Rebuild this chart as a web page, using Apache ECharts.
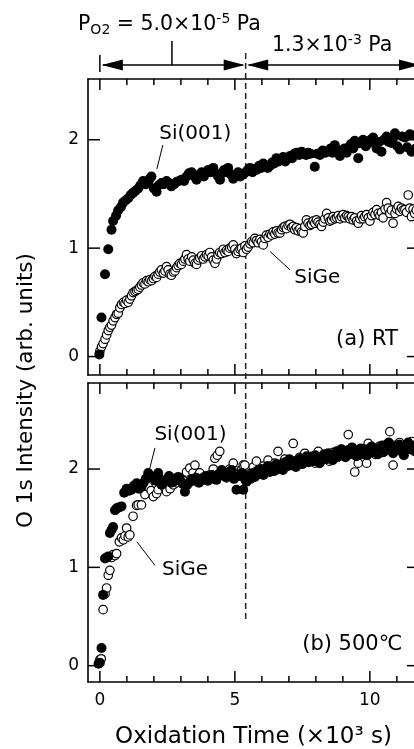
<!DOCTYPE html>
<html><head><meta charset="utf-8">
<script src="https://cdn.jsdelivr.net/npm/echarts@6/dist/echarts.min.js"></script>
<style>html,body{margin:0;padding:0;background:#fff}#c{width:414px;height:749px}</style>
</head><body><div id="c"></div>
<script>
// ---- data (x: oxidation time ×10^3 s, y: O 1s intensity arb. units) ----
const xTicksMinor = [0,1,2,3,4,5,6,7,8,9,10,11];
const xTicksMajor = [0,5,10];
const yTicks = [0,1,2];
const pressureSwitch = 5.4;

const siRT = [[-0.02,0.02],[0.06,0.36],[0.19,0.76],[0.31,0.99],[0.43,1.17],[0.49,1.25],[0.6,1.3],[0.68,1.35],[0.78,1.38],[0.86,1.42],[0.95,1.44],[1.05,1.46],[1.14,1.49],[1.23,1.51],[1.32,1.53],[1.42,1.55],[1.5,1.58],[1.6,1.62],[1.7,1.59],[1.79,1.6],[1.85,1.64],[1.91,1.66],[2.0,1.55],[2.1,1.52],[2.18,1.58],[2.28,1.6],[2.37,1.59],[2.47,1.62],[2.56,1.6],[2.65,1.57],[2.75,1.59],[2.84,1.61],[2.93,1.62],[3.02,1.63],[3.12,1.62],[3.21,1.66],[3.3,1.69],[3.4,1.7],[3.5,1.66],[3.58,1.63],[3.68,1.68],[3.77,1.7],[3.85,1.66],[3.93,1.69],[4.01,1.72],[4.1,1.7],[4.2,1.74],[4.3,1.69],[4.38,1.66],[4.45,1.63],[4.52,1.69],[4.6,1.72],[4.68,1.7],[4.75,1.74],[4.85,1.68],[4.94,1.64],[5.03,1.68],[5.12,1.7],[5.2,1.66],[5.31,1.68],[5.4,1.7],[5.48,1.72],[5.56,1.74],[5.65,1.7],[5.73,1.73],[5.8,1.72],[5.9,1.76],[5.97,1.74],[6.05,1.78],[6.13,1.76],[6.22,1.74],[6.3,1.76],[6.38,1.79],[6.46,1.78],[6.54,1.83],[6.62,1.8],[6.7,1.82],[6.79,1.84],[6.87,1.8],[6.96,1.83],[7.04,1.85],[7.12,1.83],[7.2,1.87],[7.28,1.88],[7.38,1.86],[7.47,1.89],[7.56,1.87],[7.64,1.86],[7.72,1.88],[7.8,1.87],[7.96,1.75],[8.05,1.87],[8.15,1.86],[8.25,1.9],[8.35,1.88],[8.46,1.9],[8.55,1.92],[8.62,1.88],[8.7,1.95],[8.8,1.9],[8.89,1.85],[8.98,1.88],[9.06,1.92],[9.14,1.88],[9.22,1.93],[9.3,1.96],[9.38,1.92],[9.44,1.99],[9.5,1.96],[9.57,1.83],[9.65,1.97],[9.75,2.0],[9.85,1.94],[9.94,1.97],[10.03,2.0],[10.12,2.02],[10.2,1.96],[10.25,1.92],[10.34,1.98],[10.43,1.89],[10.52,2.0],[10.62,2.03],[10.7,1.98],[10.8,1.97],[10.88,2.02],[10.93,2.06],[11.02,1.94],[11.11,1.91],[11.2,2.03],[11.3,2.02],[11.38,1.93],[11.48,2.05],[11.54,1.89],[11.62,2.04],[11.7,1.92]];

const sigeRT = [[0.0,0.05],[0.06,0.09],[0.12,0.12],[0.19,0.16],[0.25,0.2],[0.31,0.24],[0.37,0.27],[0.43,0.29],[0.49,0.33],[0.56,0.36],[0.62,0.39],[0.68,0.4],[0.74,0.45],[0.8,0.48],[0.87,0.5],[0.93,0.49],[0.99,0.52],[1.05,0.5],[1.11,0.53],[1.17,0.56],[1.23,0.59],[1.3,0.6],[1.36,0.61],[1.42,0.62],[1.48,0.64],[1.54,0.66],[1.6,0.68],[1.67,0.67],[1.73,0.7],[1.79,0.69],[1.85,0.71],[1.92,0.7],[1.98,0.72],[2.04,0.74],[2.1,0.73],[2.16,0.76],[2.22,0.78],[2.28,0.8],[2.35,0.77],[2.41,0.79],[2.47,0.83],[2.53,0.8],[2.59,0.76],[2.65,0.75],[2.72,0.78],[2.78,0.79],[2.84,0.82],[2.9,0.84],[2.96,0.86],[3.02,0.85],[3.09,0.88],[3.15,0.9],[3.21,0.94],[3.27,0.9],[3.33,0.88],[3.4,0.92],[3.46,0.89],[3.52,0.86],[3.58,0.85],[3.64,0.89],[3.7,0.91],[3.77,0.93],[3.83,0.9],[3.89,0.92],[3.95,0.94],[4.01,0.93],[4.07,0.96],[4.14,0.92],[4.2,0.89],[4.26,0.86],[4.32,0.9],[4.38,0.94],[4.44,0.96],[4.51,0.95],[4.57,0.99],[4.63,0.96],[4.69,0.98],[4.75,0.97],[4.81,1.0],[4.88,1.01],[4.94,1.03],[5.0,0.99],[5.06,0.95],[5.12,0.97],[5.19,0.99],[5.25,1.0],[5.31,0.96],[5.37,1.02],[5.43,0.99],[5.49,1.01],[5.56,1.04],[5.62,1.06],[5.68,1.05],[5.74,1.09],[5.8,1.07],[5.86,1.05],[5.93,1.08],[5.99,1.06],[6.05,1.03],[6.11,1.09],[6.17,1.12],[6.23,1.1],[6.3,1.13],[6.36,1.12],[6.42,1.15],[6.48,1.13],[6.54,1.16],[6.6,1.14],[6.67,1.14],[6.73,1.17],[6.79,1.19],[6.85,1.2],[6.91,1.18],[6.97,1.21],[7.04,1.22],[7.1,1.19],[7.16,1.2],[7.22,1.17],[7.28,1.19],[7.34,1.16],[7.41,1.18],[7.47,1.15],[7.53,1.14],[7.59,1.2],[7.65,1.26],[7.71,1.23],[7.78,1.21],[7.84,1.22],[7.9,1.25],[7.96,1.23],[8.02,1.26],[8.08,1.24],[8.15,1.22],[8.21,1.2],[8.27,1.24],[8.33,1.27],[8.4,1.32],[8.46,1.28],[8.52,1.25],[8.58,1.26],[8.64,1.29],[8.7,1.27],[8.77,1.28],[8.83,1.3],[8.89,1.27],[8.95,1.29],[9.01,1.31],[9.07,1.28],[9.14,1.3],[9.2,1.29],[9.26,1.27],[9.32,1.29],[9.38,1.26],[9.44,1.28],[9.51,1.25],[9.57,1.23],[9.63,1.27],[9.69,1.3],[9.75,1.27],[9.81,1.29],[9.88,1.31],[9.94,1.28],[10.0,1.25],[10.06,1.3],[10.12,1.33],[10.19,1.31],[10.25,1.355],[10.31,1.32],[10.37,1.3],[10.43,1.33],[10.49,1.28],[10.56,1.36],[10.62,1.42],[10.68,1.37],[10.74,1.32],[10.8,1.35],[10.86,1.23],[10.93,1.32],[10.99,1.36],[11.05,1.385],[11.11,1.34],[11.17,1.37],[11.23,1.35],[11.3,1.355],[11.36,1.33],[11.42,1.49],[11.48,1.37],[11.54,1.29],[11.6,1.36],[11.66,1.32],[11.72,1.35]];

const siHT = [[-0.05,0.02],[0.0,0.03],[0.06,0.18],[0.12,0.72],[0.19,1.09],[0.25,1.1],[0.31,1.11],[0.37,1.35],[0.43,1.38],[0.49,1.41],[0.56,1.58],[0.62,1.6],[0.7,1.61],[0.8,1.62],[0.9,1.76],[0.99,1.8],[1.08,1.78],[1.17,1.79],[1.26,1.83],[1.36,1.855],[1.45,1.8],[1.54,1.82],[1.62,1.86],[1.7,1.9],[1.79,1.96],[1.88,1.93],[1.98,1.91],[2.07,1.88],[2.16,1.96],[2.22,1.9],[2.28,1.84],[2.37,1.87],[2.47,1.89],[2.56,1.93],[2.64,1.86],[2.72,1.87],[2.81,1.9],[2.9,1.92],[2.98,1.88],[3.07,1.85],[3.15,1.77],[3.24,1.84],[3.33,1.87],[3.42,1.9],[3.5,1.88],[3.58,1.91],[3.67,1.86],[3.75,1.9],[3.83,1.89],[3.92,1.93],[4.0,1.88],[4.07,1.91],[4.15,1.94],[4.23,1.9],[4.32,1.89],[4.4,1.95],[4.51,1.99],[4.6,1.93],[4.69,1.92],[4.78,1.97],[4.88,1.99],[4.97,1.9],[5.06,1.79],[5.15,1.93],[5.25,1.96],[5.31,1.79],[5.37,1.9],[5.43,1.87],[5.5,1.93],[5.58,1.9],[5.66,1.96],[5.74,1.92],[5.82,1.98],[5.9,1.95],[5.98,2.0],[6.06,1.94],[6.14,1.99],[6.22,2.03],[6.3,1.97],[6.38,2.02],[6.46,1.98],[6.54,2.05],[6.62,2.0],[6.7,2.04],[6.78,1.99],[6.86,2.07],[6.94,2.03],[7.02,2.1],[7.1,2.04],[7.18,2.08],[7.26,2.02],[7.34,2.07],[7.42,2.11],[7.5,2.05],[7.58,2.09],[7.66,2.13],[7.74,2.07],[7.82,2.12],[7.9,2.08],[7.98,2.14],[8.06,2.1],[8.14,2.06],[8.22,2.12],[8.3,2.15],[8.38,2.1],[8.46,2.16],[8.54,2.12],[8.62,2.09],[8.7,2.15],[8.78,2.18],[8.86,2.13],[8.94,2.2],[9.02,2.16],[9.1,2.12],[9.18,2.19],[9.26,2.15],[9.34,2.22],[9.42,2.17],[9.5,2.13],[9.58,2.18],[9.66,2.21],[9.74,2.16],[9.82,2.2],[9.9,2.14],[9.98,2.19],[10.06,2.23],[10.14,2.17],[10.22,2.21],[10.3,2.15],[10.38,2.2],[10.46,2.24],[10.54,2.18],[10.62,2.22],[10.7,2.27],[10.78,2.2],[10.86,2.16],[10.94,2.24],[11.02,2.19],[11.1,2.25],[11.18,2.21],[11.26,2.14],[11.34,2.22],[11.42,2.27],[11.5,2.2],[11.58,2.24],[11.66,2.18],[11.74,2.23]];

const sigeHT = [[0.0,0.06],[0.05,0.07],[0.12,0.57],[0.19,0.73],[0.25,0.79],[0.31,0.92],[0.37,0.97],[0.43,1.1],[0.49,1.13],[0.56,1.12],[0.62,1.14],[0.72,1.26],[0.8,1.3],[0.87,1.28],[0.93,1.32],[0.99,1.4],[1.05,1.31],[1.11,1.33],[1.23,1.52],[1.36,1.63],[1.42,1.635],[1.54,1.635],[1.67,1.74],[1.79,1.82],[1.9,1.78],[1.98,1.72],[2.1,1.75],[2.16,1.79],[2.28,1.87],[2.4,1.81],[2.47,1.77],[2.6,1.8],[2.72,1.84],[2.84,1.86],[2.96,1.91],[3.1,1.88],[3.21,1.97],[3.33,2.01],[3.45,1.96],[3.52,2.04],[3.62,1.93],[3.7,1.96],[3.82,1.91],[3.95,1.89],[4.08,1.94],[4.2,2.0],[4.26,2.11],[4.35,2.14],[4.44,2.18],[4.56,1.97],[4.69,1.91],[4.81,2.0],[4.94,2.06],[5.06,1.98],[5.15,1.95],[5.25,1.99],[5.31,2.04],[5.37,2.04],[5.45,1.92],[5.55,1.95],[5.68,2.02],[5.8,2.08],[5.92,1.98],[6.05,2.03],[6.23,2.09],[6.35,2.02],[6.48,2.06],[6.6,2.18],[6.72,2.05],[6.85,2.1],[6.98,2.03],[7.16,2.26],[7.28,2.08],[7.4,2.12],[7.59,2.16],[7.72,2.09],[7.85,2.13],[7.97,2.06],[8.09,2.18],[8.2,2.1],[8.35,2.14],[8.5,2.08],[8.65,2.17],[8.8,2.12],[8.95,2.2],[9.08,2.15],[9.2,2.35],[9.32,2.2],[9.44,1.97],[9.57,2.06],[9.7,2.15],[9.88,2.06],[9.94,2.26],[10.05,2.2],[10.2,2.15],[10.35,2.23],[10.5,2.17],[10.62,2.25],[10.74,2.38],[10.86,2.04],[10.98,2.21],[11.1,2.27],[11.25,2.19],[11.42,2.23],[11.55,2.28],[11.7,2.2]];

// ---- chart ----
const F = 'DejaVu Sans';
const XMIN = -0.44, XMAX = 11.82;
const YTOP = [-0.17, 2.56], YBOT = [-0.166, 2.875];
const G_TOP = {left:88, top:79, width:331, height:296};
const G_BOT = {left:88, top:383, width:331, height:299};
const axLine = {show:true, onZero:false, lineStyle:{color:'#000', width:1.6}};

function xAx(gi, pos, labels) {
  return {
    type:'value', gridIndex:gi, position:pos, min:XMIN, max:XMAX,
    axisLine:axLine, splitLine:{show:false}, axisTick:{show:false},
    axisLabel: labels ? {show:true, customValues:xTicksMajor, fontFamily:F, fontSize:17, color:'#000', margin:10} : {show:false}
  };
}
function yAx(gi, pos, range, labels) {
  return {
    type:'value', gridIndex:gi, position:pos, min:range[0], max:range[1],
    axisLine:axLine, splitLine:{show:false}, axisTick:{show:false},
    axisLabel: labels ? {show:true, customValues:yTicks, fontFamily:F, fontSize:17, color:'#000', margin:9} : {show:false}
  };
}
const plain = {show:false, outerBoundsMode:'none', containLabel:false};

// tick marks: drawn as a custom series through each panel's own axes
function tickSeries(xi, yi, range) {
  return {
    type:'custom', xAxisIndex:xi, yAxisIndex:yi, silent:true, z:10, clip:false,
    data:[0],
    renderItem:function(params, api) {
      const cs = params.coordSys; // {x, y, width, height}
      const xL = cs.x, xR = cs.x + cs.width, yT = cs.y, yB = cs.y + cs.height;
      const kids = [];
      const st = {stroke:'#000', lineWidth:1.5};
      xTicksMinor.forEach(function(v){
        const px = api.coord([v, range[0]])[0];
        const len = xTicksMajor.indexOf(v) >= 0 ? 11 : 6;
        kids.push({type:'line', shape:{x1:px, y1:yB, x2:px, y2:yB-len}, style:st});
        kids.push({type:'line', shape:{x1:px, y1:yT, x2:px, y2:yT+len}, style:st});
      });
      yTicks.forEach(function(v){
        const py = api.coord([0, v])[1];
        kids.push({type:'line', shape:{x1:xL, y1:py, x2:xL+12, y2:py}, style:st});
        kids.push({type:'line', shape:{x1:xR, y1:py, x2:xR-12, y2:py}, style:st});
      });
      return {type:'group', children:kids};
    }
  };
}

const option = {
  animation:false,
  backgroundColor:'#fff',
  grid:[ Object.assign({}, G_TOP, plain), Object.assign({}, G_BOT, plain) ],
  xAxis:[
    xAx(0,'bottom',false),
    xAx(0,'top',false),
    Object.assign(xAx(1,'bottom',true), {
      name:'Oxidation Time (×10³ s)', nameLocation:'middle', nameGap:44,
      nameTextStyle:{fontFamily:F, fontSize:23, color:'#000'}
    }),
    xAx(1,'top',false)
  ],
  yAxis:[
    yAx(0,'left',YTOP,true),
    yAx(0,'right',YTOP,false),
    yAx(1,'left',YBOT,true),
    yAx(1,'right',YBOT,false)
  ],
  series:[
    {name:'SiGe RT', type:'scatter', xAxisIndex:0, yAxisIndex:0, data:sigeRT, symbol:'circle', symbolSize:8.5,
     itemStyle:{color:'#fff', borderColor:'#000', borderWidth:1.2, opacity:1}, silent:true},
    {name:'Si(001) RT', type:'scatter', xAxisIndex:0, yAxisIndex:0, data:siRT, symbol:'circle', symbolSize:10,
     itemStyle:{color:'#000', opacity:1}, silent:true},
    {name:'SiGe 500C', type:'scatter', xAxisIndex:2, yAxisIndex:2, data:sigeHT, symbol:'circle', symbolSize:8.5,
     itemStyle:{color:'#fff', borderColor:'#000', borderWidth:1.2, opacity:1}, silent:true},
    {name:'Si(001) 500C', type:'scatter', xAxisIndex:2, yAxisIndex:2, data:siHT, symbol:'circle', symbolSize:10,
     itemStyle:{color:'#000', opacity:1}, silent:true},
    tickSeries(0, 0, YTOP),
    tickSeries(2, 2, YBOT)
  ]
};

const chart = echarts.init(document.getElementById('c'), null, {renderer:'canvas'});
chart.setOption(option);

// ---- annotations (positions derived from the axes) ----
const pxT = (x,y) => chart.convertToPixel({xAxisIndex:0, yAxisIndex:0}, [x,y]);
const pxB = (x,y) => chart.convertToPixel({xAxisIndex:2, yAxisIndex:2}, [x,y]);
const X = v => chart.convertToPixel({xAxisIndex:0}, v);

const xs = X(pressureSwitch), x0 = X(0), xEnd = X(XMAX);
const arrowY = G_TOP.top - 14;
const dashBottom = pxB(pressureSwitch, 0.44)[1];
const blk = {stroke:'#000', lineWidth:1.5};

function head(tip, y, dir) {
  return {type:'polygon', shape:{points:[[tip,y],[tip-dir*21,y-5.5],[tip-dir*21,y+5.5]]}, style:{fill:'#000'}};
}
function line(p1, p2, st) {
  return {type:'line', shape:{x1:p1[0], y1:p1[1], x2:p2[0], y2:p2[1]}, style:Object.assign({stroke:'#000', lineWidth:1}, st||{})};
}
function txt(p, text, align, size) {
  return {type:'text', x:p[0], y:p[1], style:{text:text, fontFamily:F, fontSize:size||20, fill:'#000', align:align||'left', verticalAlign:'middle'}};
}
const tok = {fontFamily:F, fill:'#000', verticalAlign:'middle'};
const rich = {
  n: Object.assign({fontSize:20.5}, tok),
  sub: Object.assign({fontSize:14, padding:[11,0,0,0]}, tok),
  sup: Object.assign({fontSize:14, padding:[0,0,11,0]}, tok)
};

const yMid = (G_TOP.top + G_BOT.top + G_BOT.height) / 2 + 10;

chart.setOption({graphic:{elements:[
  {type:'line', shape:{x1:xs, y1:G_TOP.top-26, x2:xs, y2:dashBottom},
   style:{stroke:'#222', lineWidth:1.5, lineDash:[6,4]}, z:1},
  line([x0, arrowY-10],[x0, arrowY+7], blk),
  line([x0+3, arrowY],[xs-3, arrowY], blk),
  head(x0+2, arrowY, -1), head(xs-1, arrowY, 1),
  line([X(2.67), arrowY-24],[X(2.67), arrowY], blk),
  line([xs+3, arrowY],[xEnd, arrowY], blk),
  head(xs+1.5, arrowY, -1), head(xEnd+1, arrowY, 1),
  {type:'text', x:78, y:25, style:{text:'{n|P}{sub|O2}{n| = 5.0×10}{sup|-5}{n| Pa}', rich:rich, align:'left', verticalAlign:'middle'}},
  {type:'text', x:272, y:46, style:{text:'{n|1.3×10}{sup|-3}{n| Pa}', rich:rich, align:'left', verticalAlign:'middle'}},
  txt(pxT(2.2, 2.05), 'Si(001)', 'left', 20),
  line(pxT(2.33, 1.95), pxT(2.11, 1.73)),
  txt(pxT(7.2, 0.73), 'SiGe', 'left', 20),
  line(pxT(7.04, 0.80), pxT(6.3, 0.97)),
  txt(pxT(11.04, 0.155), '(a) RT', 'right', 21),
  txt(pxB(2.02, 2.35), 'Si(001)', 'left', 20),
  line(pxB(2.04, 2.215), pxB(1.85, 2.01)),
  txt(pxB(2.3, 0.975), 'SiGe', 'left', 20),
  line(pxB(2.04, 1.02), pxB(1.37, 1.26)),
  txt(pxB(11.2, 0.21), '(b) 500℃', 'right', 21),
  {type:'text', x:26, y:yMid, rotation:Math.PI/2,
   style:{text:'O 1s Intensity (arb. units)', fontFamily:F, fontSize:21.5, fill:'#000', align:'center', verticalAlign:'middle'}}
]}});
</script></body></html>
